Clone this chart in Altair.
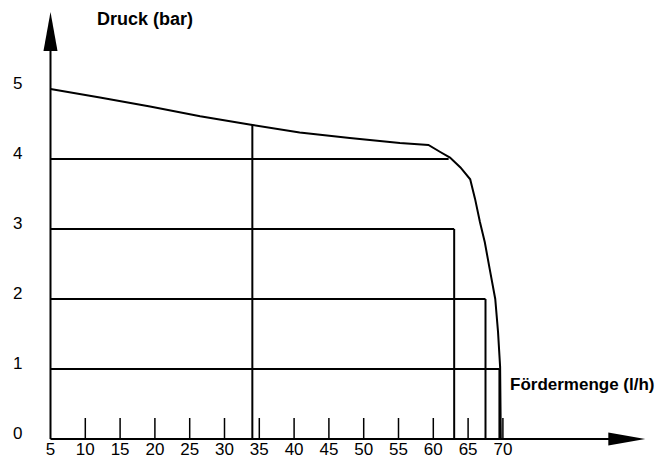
import altair as alt
import pandas as pd

# ---- data ----
CURVE_X = [5, 12.1, 19.3, 26.5, 33.8, 40.8, 48.0, 55.2, 59.3, 61.0, 62.4, 63.9,
           65.3, 66.0, 66.7, 67.4, 68.1, 68.9, 69.3, 69.6, 69.7]
CURVE_Y = [5.0, 4.88, 4.75, 4.61, 4.49, 4.38, 4.30, 4.23, 4.20, 4.10, 4.02, 3.88,
           3.71, 3.43, 3.10, 2.81, 2.43, 2.0, 1.53, 1.03, 0.0]

OP_PRESSURE = [1, 2, 3, 4]           # horizontal guide lines (bar)
OP_FLOW = [69.5, 67.5, 63.0, 62.2]   # their right ends (l/h)
OP_DROP = [True, True, True, False]  # vertical drop to the axis

VLINE_FLOW = 34
VLINE_TOP = 4.49

X_TICKS = [10, 15, 20, 25, 30, 35, 40, 45, 50, 55, 60, 65, 70]
X_LABELS = [5, 10, 15, 20, 25, 30, 35, 40, 45, 50, 55, 60, 65, 70]
Y_LABELS = [0, 1, 2, 3, 4, 5]

X_AXIS_END = 88.0
Y_AXIS_END = 5.6
X_ARROW = (87.8, 0.0)
Y_ARROW = (5.0, 5.82)

FONT = "Liberation Sans"

xs = alt.Scale(domain=[5, 70], range=[42.5, 494.9], nice=False, zero=False)
ys = alt.Scale(domain=[0, 5], range=[431, 81], nice=False, zero=False)

# segments
segs = []
segs.append(dict(x=5, x2=X_AXIS_END, y=0, y2=0, w=2))          # x axis
segs.append(dict(x=5, x2=5, y=0, y2=Y_AXIS_END, w=2))          # y axis
for p, f, d in zip(OP_PRESSURE, OP_FLOW, OP_DROP):
    segs.append(dict(x=5, x2=f, y=p, y2=p, w=2))
    if d:
        segs.append(dict(x=f, x2=f, y=0, y2=p, w=2))
segs.append(dict(x=VLINE_FLOW, x2=VLINE_FLOW, y=0, y2=VLINE_TOP, w=2))
for t in X_TICKS:
    segs.append(dict(x=t, x2=t, y=0, y2=0.3, w=1.5))
seg_df = pd.DataFrame(segs)

rules = alt.Chart(seg_df).mark_rule(color="black").encode(
    x=alt.X("x:Q", scale=xs, axis=None),
    x2="x2:Q",
    y=alt.Y("y:Q", scale=ys, axis=None),
    y2="y2:Q",
    strokeWidth=alt.StrokeWidth("w:Q", scale=None, legend=None),
)

curve_df = pd.DataFrame({"x": CURVE_X, "y": CURVE_Y, "o": list(range(len(CURVE_X)))})
curve = alt.Chart(curve_df).mark_line(color="black", strokeWidth=2).encode(
    x=alt.X("x:Q", scale=xs, axis=None),
    y=alt.Y("y:Q", scale=ys, axis=None),
    order="o:Q",
)

up_arrow = alt.Chart(pd.DataFrame({"x": [Y_ARROW[0]], "y": [Y_ARROW[1]]})).mark_point(
    shape="M0,-1L0.36,1L-0.36,1Z", size=1521, filled=True, color="black", opacity=1
).encode(x=alt.X("x:Q", scale=xs, axis=None), y=alt.Y("y:Q", scale=ys, axis=None))

right_arrow = alt.Chart(pd.DataFrame({"x": [X_ARROW[0]], "y": [X_ARROW[1]]})).mark_point(
    shape="M1,0L-1,0.35L-1,-0.35Z", size=1369, filled=True, color="black", opacity=1
).encode(x=alt.X("x:Q", scale=xs, axis=None), y=alt.Y("y:Q", scale=ys, axis=None))

xlab = alt.Chart(pd.DataFrame({"v": X_LABELS, "y": [0] * len(X_LABELS)})).mark_text(
    font=FONT, fontSize=17, align="center", baseline="alphabetic", dy=16, color="black"
).encode(
    x=alt.X("v:Q", scale=xs, axis=None),
    y=alt.Y("y:Q", scale=ys, axis=None),
    text="v:Q",
)

ylab = alt.Chart(pd.DataFrame({"v": Y_LABELS})).mark_text(
    font=FONT, fontSize=17, align="left", baseline="middle", dy=-5, color="black"
).encode(
    x=alt.value(5),
    y=alt.Y("v:Q", scale=ys, axis=None),
    text="v:Q",
)

titles = alt.Chart(pd.DataFrame({
    "t": ["Druck (bar)", "Fördermenge (l/h)"],
    "px": [89, 502],
    "py": [12, 377],
    "fs": [18, 17],
})).mark_text(
    font=FONT, fontWeight="bold", align="left", baseline="middle", color="black"
).encode(
    x=alt.X("px:Q", scale=None, axis=None),
    y=alt.Y("py:Q", scale=None, axis=None),
    size=alt.Size("fs:Q", scale=None, legend=None),
    text="t:N",
)

chart = alt.layer(rules, curve, up_arrow, right_arrow, xlab, ylab, titles).properties(
    width=647, height=452, padding=0, background="white",
    autosize=alt.AutoSizeParams(type="none"),
).configure_view(stroke=None)

chart.save("out.html", embed_options={"renderer": "svg", "actions": False})
